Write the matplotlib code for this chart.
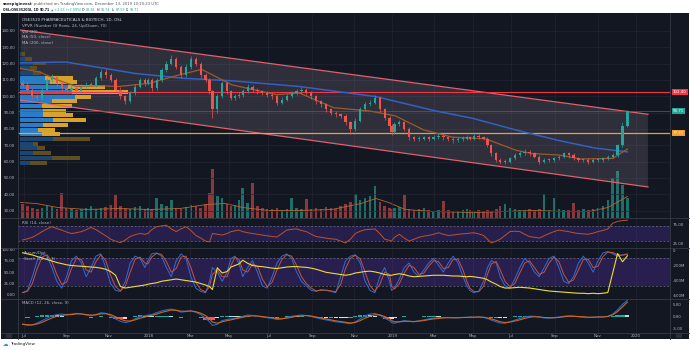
import numpy as np
import pandas as pd
import matplotlib
matplotlib.use("Agg")
import matplotlib.pyplot as plt
from matplotlib.patches import Rectangle, Polygon
from matplotlib.lines import Line2D
import matplotlib.transforms as mtransforms

# ---------------- data (weekly) ----------------
week_dates = pd.date_range("2017-06-30", "2019-12-13", freq="W-FRI")

open_ = [108,107,104,100,99,104,110,112,108,105,
         104,105,103,106,107,107,111,115,113,110,
         104,100,97,102,106,110,108,110,105,110,
         116,120,123,118,113,118,123,120,113,110,
         103,92,100,108,103,99,100,101,103,106,
         104,103,102,101,100,96,98,100,102,103,
         104,102,100,97,95,92,90,89,88,
         84,80,85,92,95,96,99,92,87,82,
         78,83,84,80,75,74,74,75,74,75,
         76,75,74,73,74,74,75,74,76,75,
         74,70,65,61,60,60,62,64,65,66,
         65,63,60,61,61,62,63,65,64,62,
         61,61,60,61,61,62,63,64,70,82]

close = [107,104,100,99,104,110,112,108,105,104,
         105,103,106,107,107,111,115,113,110,104,
         100,97,102,106,110,108,110,105,110,116,
         120,123,118,113,118,123,120,113,110,103,
         92,100,108,103,99,100,101,103,106,104,
         103,102,101,100,96,98,100,102,103,104,
         102,100,97,95,92,90,89,88,84,
         80,85,92,95,96,99,92,87,82,78,
         83,84,80,75,74,74,75,74,75,76,
         75,74,73,74,74,75,74,76,75,74,
         70,65,61,60,60,62,64,65,66,65,
         63,60,61,61,62,63,65,64,62,61,
         61,60,61,61,62,63,64,70,82,90.71]

high = [110,108.5,105,101.5,105.5,111.5,113.5,113,109.5,106.5,
        106.5,106.5,107.5,108.5,109,112.5,116.5,116.5,114,111,
        105.5,101,103.5,107.5,111.5,111.5,111.5,111,111.5,117.5,
        121.5,125,124,119,119.5,124.5,124,121,114,111,
        104,101.5,109.5,109,104,101.5,102.5,104.5,107.5,107,
        105,104,103,102,101,99.5,101.5,103.5,104.5,105.5,
        105,103,101,98,96,93,91,90,89,
        85,86.5,93.5,96.5,97.5,100.5,100,93,88,83,
        84.5,85.5,85,81,76,75.5,76,76,76.5,77.5,
        77.5,76,75,75,75.5,76.5,76,77.5,77,76,
        75,71,66,62,61.5,63,65,66.5,67.5,67,
        66,64,62,62.5,63,64,66,66,65,63,
        62,62,62,62,63,64,65,71,84,91.74]

low = [105.5,102.5,98.5,97.5,98,103,109,106.5,103.5,102.5,
       102.5,101.5,102,105,105.5,106,110,111.5,108.5,102.5,
       98.5,95.5,96,101,105,106.5,107,103.5,104,109,
       115,119,116.5,111.5,112,117,118.5,111.5,108.5,101.5,
       87,90,99,101.5,97.5,97.5,99,99.5,102,102.5,
       101.5,100.5,99.5,98.5,94.5,95,97,99,100.5,101.5,
       100.5,98.5,95.5,93.5,90.5,88.5,87.5,86.5,82.5,
       77,79,84,91,94,95,90.5,85.5,80.5,76.5,
       77,82,79,73.5,72.5,72.5,73,72.5,73,74,
       73.5,72.5,71.5,72,72.5,73,73,73,74,73,
       69,63.5,59.5,58.5,58.5,59,61,63,64,63.5,
       62,58.5,59,59.5,60,61,62,62.5,61,59.5,
       59.5,58.5,59,60,60,61,62,63,69,81]

volume = [14,12,10,9,10,12,11,9,25,10,
          9,8,9,10,12,9,10,11,13,23,
          12,10,9,11,12,9,10,9,20,14,
          12,18,10,9,11,13,12,10,14,25,
          49,22,20,14,12,13,18,30,15,35,
          12,10,9,9,10,8,9,20,10,9,
          19,9,10,9,11,10,9,12,14,16,
          24,18,20,22,32,16,12,10,9,10,
          11,23,9,8,9,10,8,7,8,17,
          8,7,7,8,9,8,7,8,7,8,
          7,9,12,14,10,9,8,8,9,8,
          9,24,8,20,9,8,8,15,8,9,
          8,9,10,12,18,40,47,33,20]

rsi = [33,36,40,47,55,62,68,63,59,54,
       50,52,55,60,66,60,52,44,35,30,
       26,33,42,47,50,48,50,60,68,70,
       72,62,55,62,68,58,45,38,30,28,
       50,48,46,50,55,57,59,55,52,50,
       48,46,44,42,41,50,59,61,62,58,
       55,48,42,40,38,36,35,30,25,35,
       50,56,60,61,62,50,35,32,30,40,
       48,38,30,35,40,43,45,48,52,48,
       45,46,48,49,50,51,52,49,45,35,
       25,30,35,45,55,56,55,48,42,40,
       38,44,50,55,59,57,55,52,50,49,
       48,51,55,58,62,77,82,84,85]

stoch_k = [5,10,40,75,90,85,60,30,15,40,
           75,85,70,40,60,85,90,60,25,10,
           8,30,70,85,80,60,75,90,92,85,
           60,40,75,90,80,40,15,8,5,30,
           60,50,30,50,80,85,70,40,60,75,
           50,20,15,40,70,85,90,80,50,30,
           20,10,8,12,10,8,5,40,75,85,
           88,70,30,10,5,40,60,30,10,15,
           35,60,70,50,40,55,70,80,65,50,
           70,85,70,40,20,10,5,8,30,60,
           75,70,40,20,15,35,60,80,70,50,
           40,60,80,85,60,30,25,40,70,85,
           70,50,75,92,95,90,85,88,90]

stoch_d = [5,8,25,58,83,88,73,45,23,28,
           58,80,78,55,50,73,88,75,43,18,
           9,19,50,78,83,70,68,83,91,89,
           73,50,58,83,85,60,28,12,7,18,
           45,55,40,40,65,83,78,55,50,68,
           63,35,18,28,55,78,88,85,65,40,
           25,15,9,10,11,9,7,23,58,80,
           87,79,50,20,8,23,50,45,20,13,
           25,48,65,60,45,48,63,75,73,58,
           60,78,78,55,30,15,8,7,19,45,
           68,73,55,30,18,25,48,70,75,60,
           45,50,70,83,73,45,28,33,55,78,
           78,60,63,84,94,93,88,87,89]

accum_dist = [-30,-45,-60,-80,-100,-120,-140,-160,-175,-190,
              -200,-205,-210,-215,-220,-225,-235,-250,-280,-330,
              -480,-500,-490,-480,-470,-460,-450,-440,-430,-410,
              -400,-390,-380,-390,-400,-410,-420,-440,-460,-480,
              -520,-230,-300,-280,-220,-200,-180,-130,-170,-200,
              -210,-215,-225,-235,-240,-230,-220,-215,-215,-220,
              -225,-235,-250,-270,-290,-300,-310,-320,-330,-320,
              -300,-290,-280,-275,-285,-300,-320,-330,-330,-320,
              -310,-320,-340,-350,-345,-340,-335,-330,-330,-330,
              -335,-340,-340,-345,-350,-345,-350,-360,-370,-390,
              -420,-450,-480,-500,-500,-495,-490,-495,-500,-510,
              -520,-530,-540,-545,-550,-555,-560,-565,-570,-570,
              -575,-570,-575,-570,-560,-300,-40,-150,-70]

macd = [-3.0,-3.5,-3.3,-2.5,-1.5,-0.5,0.5,1.0,1.2,1.0,
        1.2,1.5,1.3,0.8,0.5,1.0,1.8,1.5,0.5,-0.8,
        -1.8,-2.3,-1.8,-0.8,0.2,0.5,0.8,1.0,1.8,2.5,
        3.0,3.3,2.8,2.0,2.3,2.6,2.0,1.0,-0.5,-2.0,
        -3.5,-3.0,-1.5,-1.0,-0.8,-0.5,-0.2,0.3,0.8,0.6,
        0.3,0.0,-0.3,-0.6,-1.0,-0.8,-0.2,0.3,0.6,0.8,
        0.6,0.2,-0.3,-0.8,-1.2,-1.6,-2.0,-2.2,-2.5,-2.8,
        -2.0,-0.8,0.5,1.2,1.5,0.8,-0.5,-1.5,-2.3,-2.6,
        -2.0,-1.5,-1.8,-2.0,-1.6,-1.2,-0.8,-0.5,-0.3,-0.2,
        -0.2,-0.3,-0.3,-0.2,-0.1,0.0,-0.1,0.0,-0.2,-0.6,
        -1.3,-2.0,-2.5,-2.6,-2.0,-1.3,-0.6,0.0,0.3,0.3,
        0.0,-0.4,-0.5,-0.3,0.0,0.3,0.5,0.4,0.1,-0.1,
        -0.2,-0.1,0.0,0.1,0.3,1.2,3.0,5.2,7.0]

macd_signal = [-3.0,-3.2,-3.3,-2.9,-2.2,-1.3,-0.4,0.3,0.7,0.9,
               1.0,1.3,1.3,1.0,0.8,0.9,1.3,1.4,1.0,0.1,
               -0.9,-1.6,-1.7,-1.2,-0.5,0.0,0.4,0.7,1.2,1.9,
               2.4,2.9,2.8,2.4,2.4,2.5,2.2,1.6,0.6,-0.7,
               -2.1,-2.6,-2.0,-1.5,-1.2,-0.8,-0.5,-0.1,0.3,0.5,
               0.4,0.2,-0.1,-0.3,-0.7,-0.7,-0.5,-0.1,0.3,0.5,
               0.6,0.4,0.0,-0.4,-0.8,-1.2,-1.6,-1.9,-2.2,-2.5,
               -2.3,-1.5,-0.5,0.3,0.9,0.9,0.2,-0.7,-1.5,-2.0,
               -2.0,-1.8,-1.8,-1.9,-1.7,-1.5,-1.1,-0.8,-0.6,-0.4,
               -0.3,-0.3,-0.3,-0.2,-0.2,-0.1,-0.1,0.0,-0.1,-0.4,
               -0.8,-1.4,-2.0,-2.3,-2.1,-1.7,-1.2,-0.6,-0.1,0.1,
               0.0,-0.2,-0.3,-0.3,-0.2,0.1,0.3,0.3,0.2,0.1,
               -0.1,-0.1,0.0,0.0,0.2,0.9,2.3,4.2,6.2]

ma50_dates = ["2017-06-28","2017-07-25","2017-08-20","2017-09-15","2017-10-20","2017-11-15",
              "2018-01-03","2018-02-05","2018-03-18","2018-05-07","2018-07-12","2018-08-15",
              "2018-10-03","2018-11-23","2019-01-06","2019-02-15","2019-03-28","2019-05-22",
              "2019-07-06","2019-07-30","2019-09-08","2019-10-08","2019-11-22","2019-12-13"]
ma50_vals = [117,115,110,106,106.5,106,108,112,116.5,107,101,102,93,91,88,79.4,75,74,67,65,64,61.6,62,67.7]

ma200_dates = ["2017-06-28","2017-08-31","2017-10-20","2017-12-08","2018-02-21","2018-05-07","2018-08-15",
               "2018-12-02","2019-03-02","2019-05-01","2019-07-06","2019-09-08","2019-10-29","2019-12-13"]
ma200_vals = [120.5,121,117.5,114,111,109.5,106,99.8,91.2,86.5,79.4,72.8,68.3,66]

volma_dates = ["2017-06-28","2017-07-20","2017-08-20","2017-10-01","2017-11-15","2018-01-01","2018-02-15",
               "2018-03-25","2018-04-25","2018-05-25","2018-07-01","2018-08-15","2018-10-01","2018-11-10",
               "2018-12-01","2018-12-20","2019-01-20","2019-03-01","2019-05-01","2019-06-20","2019-08-01",
               "2019-09-15","2019-10-20","2019-11-15","2019-12-13"]
volma_vals = [15,14,10,8,9,8,9,13,14,10,7,7,8,14,19,15,8,6,5,6,7,6,6,10,21]

# volume profile (24 rows, bottom -> top)
vp_low, vp_high = 58.0, 127.3
vp_up = [10,32,13,17,13,33,22,18,23,33,23,23,22,32,55,52,48,30,25,13,10,13,5,2]
vp_down = [17,28,18,8,5,38,18,17,25,33,30,23,30,25,17,57,38,27,28,8,7,13,7,3]

channel_dates = ["2017-06-28", "2020-01-20"]
channel_upper = [140.6, 89.0]
channel_lower = [97.7, 44.5]

level_red, level_orange, last_price = 102.40, 77.40, 90.71

tick_months = ["2017-07-01","2017-09-01","2017-11-01","2018-01-01","2018-03-01","2018-05-01",
               "2018-07-01","2018-09-01","2018-11-01","2019-01-01","2019-03-01","2019-05-01",
               "2019-07-01","2019-09-01","2019-11-01","2020-01-01"]
tick_labels = ["Jul","Sep","Nov","2018","Mar","May","Jul","Sep","Nov","2019","Mar","May",
               "Jul","Sep","Nov","2020"]

# ---------------- helpers ----------------
HOL = np.array(["2017-12-25","2017-12-26","2018-01-01","2018-03-29","2018-03-30","2018-04-02",
                "2018-05-01","2018-05-10","2018-05-17","2018-05-21","2018-12-24","2018-12-25",
                "2018-12-26","2018-12-31","2019-01-01","2019-04-18","2019-04-19","2019-04-22",
                "2019-05-01","2019-05-17","2019-05-30","2019-06-10","2019-12-24","2019-12-25",
                "2019-12-26","2019-12-31","2020-01-01"], dtype="datetime64[D]")
REF = np.datetime64("2018-01-02")

def bidx(dates):
    d = np.array(pd.to_datetime(list(dates)).values.astype("datetime64[D]"))
    d = np.busday_offset(d, 0, roll="forward", holidays=HOL)
    return np.busday_count(REF, d, holidays=HOL).astype(float)

W, H = 690, 350
PXB = 0.9787
X2018 = 148.8
XLIM = ((18 - X2018) / PXB, (670 - X2018) / PXB)
BG = "#131722"
GRID = "#222632"
TXT = "#b2b5be"
SEP = "#363a45"
FS = 2.9
UP, DN = "#26a69a", "#ef5350"

plt.rcParams["font.family"] = ["DejaVu Sans"]

fig = plt.figure(figsize=(W / 100, H / 100), dpi=100, facecolor="white")
fig.patches.append(Rectangle((1 / W, 1 - 339 / H), 688 / W, 326 / H, transform=fig.transFigure,
                             facecolor=BG, edgecolor="none", zorder=-10))

def rect(x0, y0, x1, y1):
    return [x0 / W, 1 - y1 / H, (x1 - x0) / W, (y1 - y0) / H]

def ftext(x, y, s, **kw):
    kw.setdefault("fontsize", FS)
    kw.setdefault("color", TXT)
    kw.setdefault("va", "center")
    return fig.text(x / W, 1 - y / H, s, **kw)

def seq_text(x, y, parts, gap=1.2):
    r = fig.canvas.get_renderer()
    for s, kw in parts:
        t = ftext(x, y, s, **kw)
        bb = t.get_window_extent(r)
        x = bb.x1 + gap

def fline(x0, y0, x1, y1, **kw):
    fig.add_artist(Line2D([x0 / W, x1 / W], [1 - y0 / H, 1 - y1 / H], transform=fig.transFigure, **kw))

xt = bidx(tick_months)

def style(ax, ylim, ygrid=False):
    ax.set_facecolor("none")
    ax.set_xlim(*XLIM)
    ax.set_ylim(*ylim)
    for s in ax.spines.values():
        s.set_visible(False)
    ax.tick_params(length=0, labelsize=FS, colors=TXT, pad=2)
    ax.set_xticks(xt)
    ax.set_xticklabels([])
    ax.grid(True, axis="x", color=GRID, lw=0.45)
    if ygrid:
        ax.grid(True, axis="y", color=GRID, lw=0.45)
    ax.set_axisbelow(True)
    ax.yaxis.tick_right()

ax = fig.add_axes(rect(18, 14, 670, 217.5))
ax_rsi = fig.add_axes(rect(18, 218.5, 670, 247.5))
ax_st = fig.add_axes(rect(18, 248.5, 670, 298))
ax_m = fig.add_axes(rect(18, 299, 670, 332.5))

# ---------------- main panel ----------------
style(ax, (25.8, 150.4), ygrid=True)
ax.set_yticks(np.arange(30, 141, 10))
ax.set_yticklabels([f"{v:.2f}" for v in np.arange(30, 141, 10)])

xw = bidx(week_dates)
n = min(len(xw), len(close), len(open_), len(high), len(low))
for i in range(n):
    o, c = open_[i], close[i]
    col = UP if c >= o else DN
    ax.vlines(xw[i], low[i], high[i], color=col, lw=0.5, zorder=4)
    ax.bar(xw[i], max(abs(c - o), 0.4), bottom=min(o, c), width=2.3, color=col, zorder=4, linewidth=0)

# channel
cx = bidx(channel_dates)
poly = Polygon([(cx[0], channel_upper[0]), (cx[1], channel_upper[1]),
                (cx[1], channel_lower[1]), (cx[0], channel_lower[0])],
               closed=True, facecolor="#b8a6bb", alpha=0.17, edgecolor="none", zorder=1)
ax.add_patch(poly)
ax.plot(cx, channel_upper, color="#e0606c", lw=0.9, zorder=2)
ax.plot(cx, channel_lower, color="#e0606c", lw=0.9, zorder=2)

# horizontal levels
ax.axhline(level_red, color="#f23645", lw=0.8, zorder=2)
ax.axhline(level_orange, color="#f59c2e", lw=0.9, zorder=2)
ax.axhline(last_price, color="#4f6562", lw=0.5, zorder=2)

# moving averages
ax.plot(bidx(ma200_dates), ma200_vals, color="#3360c4", lw=1.1, zorder=3)
ax.plot(bidx(ma50_dates), ma50_vals, color="#9c5a2c", lw=0.9, zorder=3)

# volume profile
rows = len(vp_up)
rh = (vp_high - vp_low) / rows
tot = np.array(vp_up) + np.array(vp_down)
poc = int(np.argmax(tot))
lo_i = hi_i = poc
acc = tot[poc]
while acc < 0.7 * tot.sum():
    a = tot[hi_i + 1] if hi_i + 1 < rows else -1
    b = tot[lo_i - 1] if lo_i - 1 >= 0 else -1
    if a >= b:
        hi_i += 1; acc += a
    else:
        lo_i -= 1; acc += b
trans_vp = mtransforms.blended_transform_factory(ax.transAxes, ax.transData)
vp_scale = 0.166 / tot.max()
x_start = 2 / 652
for i in range(rows):
    yc = vp_low + (i + 0.5) * rh
    inva = lo_i <= i <= hi_i
    cu = "#2a7cc7" if inva else "#1c4670"
    cd = "#d6a42c" if inva else "#5f4e24"
    wu = vp_up[i] * vp_scale
    wd = vp_down[i] * vp_scale
    ax.add_patch(Rectangle((x_start, yc - rh * 0.42), wu, rh * 0.84, transform=trans_vp,
                           facecolor=cu, edgecolor="none", zorder=1.5))
    ax.add_patch(Rectangle((x_start + wu, yc - rh * 0.42), wd, rh * 0.84, transform=trans_vp,
                           facecolor=cd, edgecolor="none", zorder=1.5))

# volume
axv = ax.twinx()
axv.set_xlim(*XLIM)
axv.set_ylim(0, 203.5)
axv.set_axis_off()
axv.set_zorder(ax.get_zorder() - 1)
for i in range(n):
    col = "#1f6e69" if close[i] >= open_[i] else "#8a383b"
    axv.bar(xw[i], volume[i], width=2.6, color=col, linewidth=0)
axv.plot(bidx(volma_dates), volma_vals, color="#b5682e", lw=0.6)

# price labels
tr = mtransforms.blended_transform_factory(ax.transAxes, ax.transData)
for val, fc in [(level_red, "#f23645"), (last_price, "#26a69a"), (level_orange, "#f59c2e")]:
    ax.text(1.0045, val, f"{val:.2f}", transform=tr, fontsize=FS, color="white", va="center", ha="left",
            bbox=dict(boxstyle="square,pad=0.25", fc=fc, ec="none"), zorder=10)

# ---------------- RSI ----------------
style(ax_rsi, (13.2, 89.5))
ax_rsi.set_yticks([25, 75])
ax_rsi.set_yticklabels(["25.00", "75.00"])
ax_rsi.axhspan(30, 70, color="#5b34b8", alpha=0.28, lw=0)
for v in (30, 70):
    ax_rsi.axhline(v, color="#787b86", lw=0.45, ls=(0, (3, 3)))
ax_rsi.plot(xw[:n], rsi[:n], color="#b8542c", lw=0.7)

# ---------------- Stoch + Accum/Dist ----------------
style(ax_st, (-6.6, 101.75))
ax_st.yaxis.tick_left()
ax_st.set_yticks([0, 25, 50, 75, 100])
ax_st.set_yticklabels(["0.00", "25.00", "50.00", "75.00", "100.00"])
ax_st.axhspan(20, 80, color="#5b34b8", alpha=0.3, lw=0)
for v in (20, 80):
    ax_st.axhline(v, color="#787b86", lw=0.45, ls=(0, (3, 3)))
ax_st.plot(xw[:n], stoch_k[:n], color="#2f6bd8", lw=0.7)
ax_st.plot(xw[:n], stoch_d[:n], color="#c2553a", lw=0.7)
ax_ad = ax_st.twinx()
ax_ad.set_xlim(*XLIM)
ax_ad.set_ylim(-633, 26.7)
for s in ax_ad.spines.values():
    s.set_visible(False)
ax_ad.tick_params(length=0, labelsize=FS, colors=TXT, pad=2)
ax_ad.set_yticks([0, -200, -400, -600])
ax_ad.set_yticklabels(["0", "-200M", "-400M", "-600M"])
ax_ad.plot(xw[:n], accum_dist[:n], color="#f0dc32", lw=0.8)

# ---------------- MACD ----------------
style(ax_m, (-6.46, 7.5))
ax_m.set_yticks([-5, 0, 5])
ax_m.set_yticklabels(["-5.00", "0.00", "5.00"])
mac = np.array(macd[:n], dtype=float)
sig = np.array(macd_signal[:n], dtype=float)
hist = mac - sig
hcol = []
for i in range(n):
    prev = hist[i - 1] if i > 0 else 0
    if hist[i] >= 0:
        hcol.append("#26a69a" if hist[i] >= prev else "#b2dfdb")
    else:
        hcol.append("#ff5252" if hist[i] <= prev else "#ffcdd2")
ax_m.bar(xw[:n], hist, width=4.3, color=hcol, linewidth=0)
ax_m.plot(xw[:n], mac, color="#2069c9", lw=0.8)
ax_m.plot(xw[:n], sig, color="#d0651c", lw=0.8)
ax_m.set_xticklabels(tick_labels)
ax_m.tick_params(axis="x", pad=1.2)

# ---------------- frame lines ----------------
fline(18, 13, 18, 339, color=SEP, lw=0.6)
fline(670, 13, 670, 339, color=SEP, lw=0.6)
for yy in (218, 248, 298.5, 332.7):
    fline(1, yy, 689, yy, color=SEP, lw=0.6)
fig.patches.append(Rectangle((6 / W, 1 - 338 / H), 6 / W, 5 / H, transform=fig.transFigure,
                             facecolor="#2a2e39", edgecolor="none"))
fig.patches.append(Rectangle((676 / W, 1 - 338 / H), 6 / W, 5 / H, transform=fig.transFigure,
                             facecolor="#2a2e39", edgecolor="none"))

# ---------------- texts ----------------
ftext(22, 20, "OSE3520 PHARMACEUTICALS & BIOTECH, 1D, OSL", color="#d1d4dc")
ftext(22, 26, "VPVR (Number Of Rows, 24, Up/Down, 70)")
ftext(22, 31.7, "Vol (20)")
ftext(22, 37.2, "MA (50, close)")
ftext(22, 42.7, "MA (200, close)")
ftext(22, 222.5, "RSI (14, close)")
ftext(24, 253.5, "Accum/Dist")
ftext(24, 258.5, "Stoch (14, 3, 3)")
ftext(22, 302.7, "MACD (12, 26, close, 9)")

seq_text(3, 4.3, [("savepiginvest", dict(color="#131722", fontweight="bold", fontsize=2.7)),
                  ("published on TradingView.com, December 13, 2019 10:20:23 UTC",
                   dict(color="#50535e", fontsize=2.7))], gap=1.0)
H2 = 2.3
seq_text(3, 10, [("OSL:OSE3520GI, 1D", dict(color="#131722", fontweight="bold", fontsize=H2)),
                 ("90.71", dict(color="#131722", fontweight="bold", fontsize=H2)),
                 ("▲ +2.63 (+2.99%)", dict(color="#26a69a", fontsize=H2)),
                 ("O:", dict(color="#131722", fontsize=H2)),
                 ("88.38", dict(color="#26a69a", fontsize=H2)),
                 ("H:", dict(color="#131722", fontsize=H2)),
                 ("91.74", dict(color="#26a69a", fontsize=H2)),
                 ("L:", dict(color="#131722", fontsize=H2)),
                 ("87.59", dict(color="#26a69a", fontsize=H2)),
                 ("C:", dict(color="#131722", fontsize=H2)),
                 ("90.71", dict(color="#26a69a", fontsize=H2))], gap=0.9)
ftext(3, 344.5, "☁", color="#2196f3", fontsize=4)
ftext(10, 344.5, "TradingView", color="#131722", fontsize=3)

fig.savefig("out.png", dpi=100, facecolor="white")
